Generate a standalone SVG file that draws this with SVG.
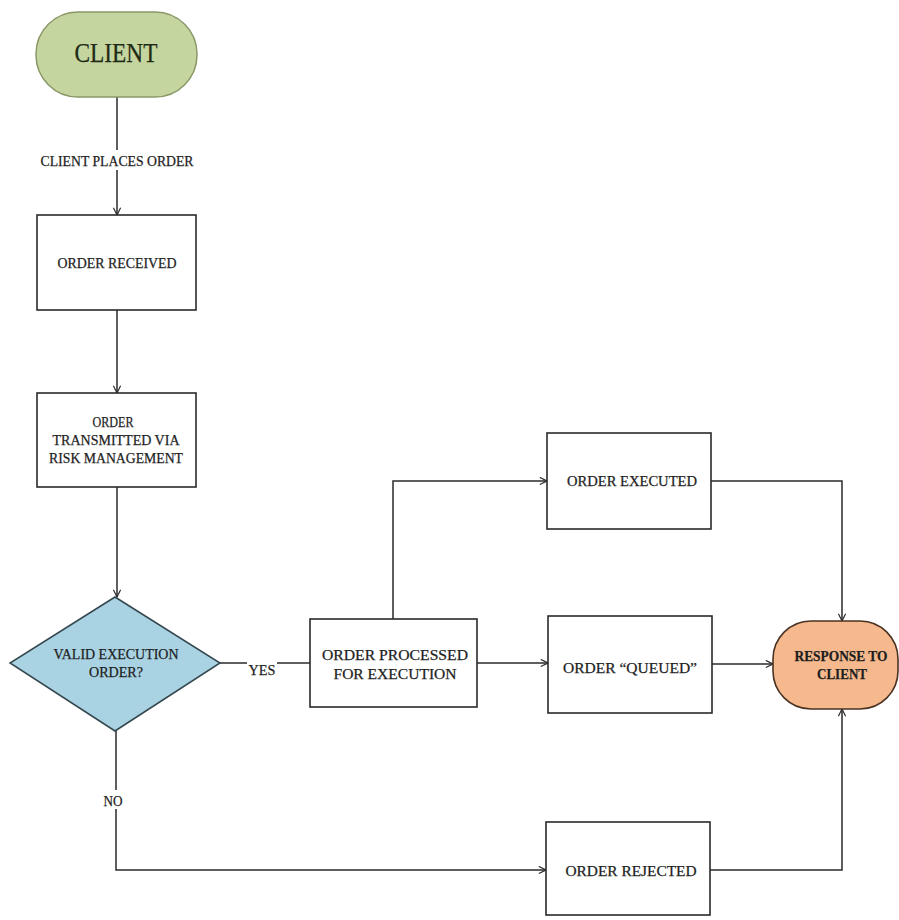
<svg xmlns="http://www.w3.org/2000/svg" width="899" height="920" viewBox="0 0 899 920">
<style>
.t{font-family:"Liberation Serif","DejaVu Serif",serif;font-size:15px;fill:#1e1e1e;text-anchor:middle;stroke:#1e1e1e;stroke-width:0.25}
.box{fill:#fff;stroke:#2a2a2a;stroke-width:1.6}
.ln{fill:none;stroke:#2a2a2a;stroke-width:1.5}
.bg{fill:#fff}
</style>
<defs>
<marker id="ah" viewBox="0 0 10 10" refX="9" refY="5" markerWidth="9" markerHeight="9" markerUnits="userSpaceOnUse" orient="auto">
<path d="M1,1 L9,5 L1,9" fill="none" stroke="#2a2a2a" stroke-width="1.3"/>
</marker>
</defs>
<rect width="899" height="920" fill="#fff"/>
<g id="connectors">
<path class="ln" d="M117,97 V215" marker-end="url(#ah)"/>
<path class="ln" d="M117,310 V393" marker-end="url(#ah)"/>
<path class="ln" d="M117,487 V597" marker-end="url(#ah)"/>
<path class="ln" d="M220,663 H310"/>
<path class="ln" d="M393,619 V481 H547" marker-end="url(#ah)"/>
<path class="ln" d="M477,663 H548" marker-end="url(#ah)"/>
<path class="ln" d="M711,481 H842 V621" marker-end="url(#ah)"/>
<path class="ln" d="M712,664 H773" marker-end="url(#ah)"/>
<path class="ln" d="M116,731 V870 H546" marker-end="url(#ah)"/>
<path class="ln" d="M710,870 H842 V709" marker-end="url(#ah)"/>
<rect class="bg" x="38" y="150" width="158" height="20"/>
<text class="t" x="117" y="166" textLength="153" lengthAdjust="spacingAndGlyphs">CLIENT PLACES ORDER</text>
<rect class="bg" x="247" y="660" width="30" height="17"/>
<text class="t" x="262" y="675" textLength="27" lengthAdjust="spacingAndGlyphs">YES</text>
<rect class="bg" x="102" y="790" width="22" height="19"/>
<text class="t" x="113" y="806" textLength="19" lengthAdjust="spacingAndGlyphs">NO</text>
</g>
<g id="client">
<rect x="36" y="12" width="161" height="85" rx="42" ry="42" fill="#c5d59f" stroke="#8a9868" stroke-width="1.5"/>
<text class="t" x="116" y="62" style="font-size:27px;fill:#1e2a14;stroke:#1e2a14" textLength="83" lengthAdjust="spacingAndGlyphs">CLIENT</text>
</g>
<g id="order-received">
<rect class="box" x="37" y="215" width="159" height="95"/>
<text class="t" x="117" y="268" textLength="119" lengthAdjust="spacingAndGlyphs">ORDER RECEIVED</text>
</g>
<g id="order-transmitted">
<rect class="box" x="37" y="393" width="159" height="94"/>
<text class="t" x="113" y="427" textLength="41" lengthAdjust="spacingAndGlyphs">ORDER</text>
<text class="t" x="116" y="445" textLength="127" lengthAdjust="spacingAndGlyphs">TRANSMITTED VIA</text>
<text class="t" x="116" y="463" textLength="134" lengthAdjust="spacingAndGlyphs">RISK MANAGEMENT</text>
</g>
<g id="valid-execution">
<polygon points="115,597 220,663 115,731 10,663" fill="#a9d3e3" stroke="#34464e" stroke-width="1.5"/>
<text class="t" x="116" y="659" textLength="125" lengthAdjust="spacingAndGlyphs">VALID EXECUTION</text>
<text class="t" x="116" y="677" textLength="54" lengthAdjust="spacingAndGlyphs">ORDER?</text>
</g>
<g id="order-processed">
<rect class="box" x="310" y="619" width="167" height="88"/>
<text class="t" x="395" y="660" textLength="146" lengthAdjust="spacingAndGlyphs">ORDER PROCESSED</text>
<text class="t" x="395" y="679" textLength="123" lengthAdjust="spacingAndGlyphs">FOR EXECUTION</text>
</g>
<g id="order-executed">
<rect class="box" x="547" y="433" width="164" height="96"/>
<text class="t" x="632" y="486" textLength="130" lengthAdjust="spacingAndGlyphs">ORDER EXECUTED</text>
</g>
<g id="order-queued">
<rect class="box" x="548" y="616" width="164" height="97"/>
<text class="t" x="630" y="673" textLength="134" lengthAdjust="spacingAndGlyphs">ORDER “QUEUED”</text>
</g>
<g id="order-rejected">
<rect class="box" x="546" y="822" width="164" height="93"/>
<text class="t" x="631" y="876" textLength="131" lengthAdjust="spacingAndGlyphs">ORDER REJECTED</text>
</g>
<g id="response">
<rect x="773" y="621" width="125" height="88" rx="38" ry="38" fill="#f5b98d" stroke="#4a3222" stroke-width="1.6"/>
<text class="t" x="841" y="661" style="font-weight:bold" textLength="93" lengthAdjust="spacingAndGlyphs">RESPONSE TO</text>
<text class="t" x="842" y="679" style="font-weight:bold" textLength="50" lengthAdjust="spacingAndGlyphs">CLIENT</text>
</g>
</svg>
